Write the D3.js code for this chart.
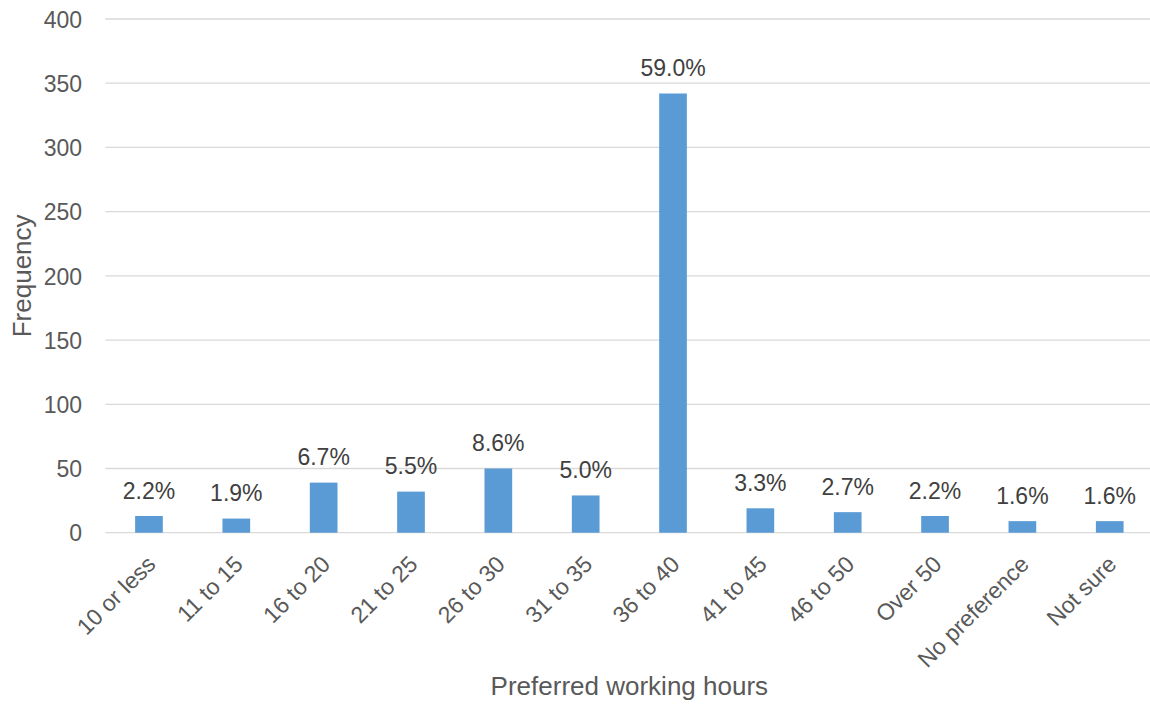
<!DOCTYPE html>
<html>
<head>
<meta charset="utf-8">
<script src="https://cdn.jsdelivr.net/npm/d3@7"></script>
<style>
  html, body { margin: 0; padding: 0; background: #fff; }
  svg { display: block; font-family: "Liberation Sans", Arial, sans-serif; }
</style>
</head>
<body>
<svg id="chart" width="1150" height="715"></svg>
<script>
const categories = ["10 or less", "11 to 15", "16 to 20", "21 to 25", "26 to 30", "31 to 35",
  "36 to 40", "41 to 45", "46 to 50", "Over 50", "No preference", "Not sure"];
const frequencies = [13, 11, 39, 32, 50, 29, 342, 19, 16, 13, 9, 9];
const percentLabels = ["2.2%", "1.9%", "6.7%", "5.5%", "8.6%", "5.0%", "59.0%", "3.3%", "2.7%", "2.2%", "1.6%", "1.6%"];
const yTicks = [0, 50, 100, 150, 200, 250, 300, 350, 400];
const xTitle = "Preferred working hours";
const yTitle = "Frequency";

const svg = d3.select("#chart");
const plot = { left: 105.3, right: 1153.4, top: 19, bottom: 532.7 };

const x = d3.scaleBand().domain(categories).range([plot.left, plot.right]).paddingInner(0.683).paddingOuter(0.3415);
const y = d3.scaleLinear().domain([0, 400]).range([plot.bottom, plot.top]);

// gridlines
svg.append("g").selectAll("line").data(yTicks).join("line")
  .attr("x1", plot.left).attr("x2", 1150)
  .attr("y1", d => y(d)).attr("y2", d => y(d))
  .attr("stroke", "#D9D9D9").attr("stroke-width", 1.3);

// y axis tick labels
const yAxis = d3.axisLeft(y).tickValues(yTicks).tickSize(0).tickPadding(0);
const gy = svg.append("g").attr("transform", `translate(82,0)`).call(yAxis);
gy.select(".domain").remove();
gy.selectAll("text").attr("font-size", 23).attr("fill", "#595959")
  .attr("font-family", "Liberation Sans, Arial, sans-serif").attr("dy", "0.36em");

// bars
svg.append("g").selectAll("rect").data(frequencies).join("rect")
  .attr("x", (d, i) => x(categories[i]))
  .attr("width", x.bandwidth())
  .attr("y", d => y(d))
  .attr("height", d => y(0) - y(d))
  .attr("fill", "#5B9BD5");

// data labels
svg.append("g").selectAll("text").data(frequencies).join("text")
  .attr("x", (d, i) => x(categories[i]) + x.bandwidth() / 2)
  .attr("y", d => y(d) - 17.5)
  .attr("text-anchor", "middle")
  .attr("font-size", 23).attr("fill", "#404040")
  .text((d, i) => percentLabels[i]);

// x category labels
const xAxis = d3.axisBottom(x).tickSize(0).tickPadding(0);
const gx = svg.append("g").attr("transform", `translate(0,${plot.bottom})`).call(xAxis);
gx.select(".domain").remove();
gx.selectAll("text")
  .attr("font-size", 23).attr("fill", "#595959")
  .attr("font-family", "Liberation Sans, Arial, sans-serif")
  .attr("text-anchor", "end")
  .attr("dy", null).attr("y", null)
  .attr("transform", "translate(8,33) rotate(-45)");

// axis titles
svg.append("text").attr("x", (plot.left + plot.right) / 2).attr("y", 695)
  .attr("text-anchor", "middle").attr("font-size", 26).attr("fill", "#595959").text(xTitle);
svg.append("text").attr("transform", `translate(31,${(plot.top + plot.bottom) / 2}) rotate(-90)`)
  .attr("text-anchor", "middle").attr("font-size", 26).attr("fill", "#595959").text(yTitle);
</script>
</body>
</html>
